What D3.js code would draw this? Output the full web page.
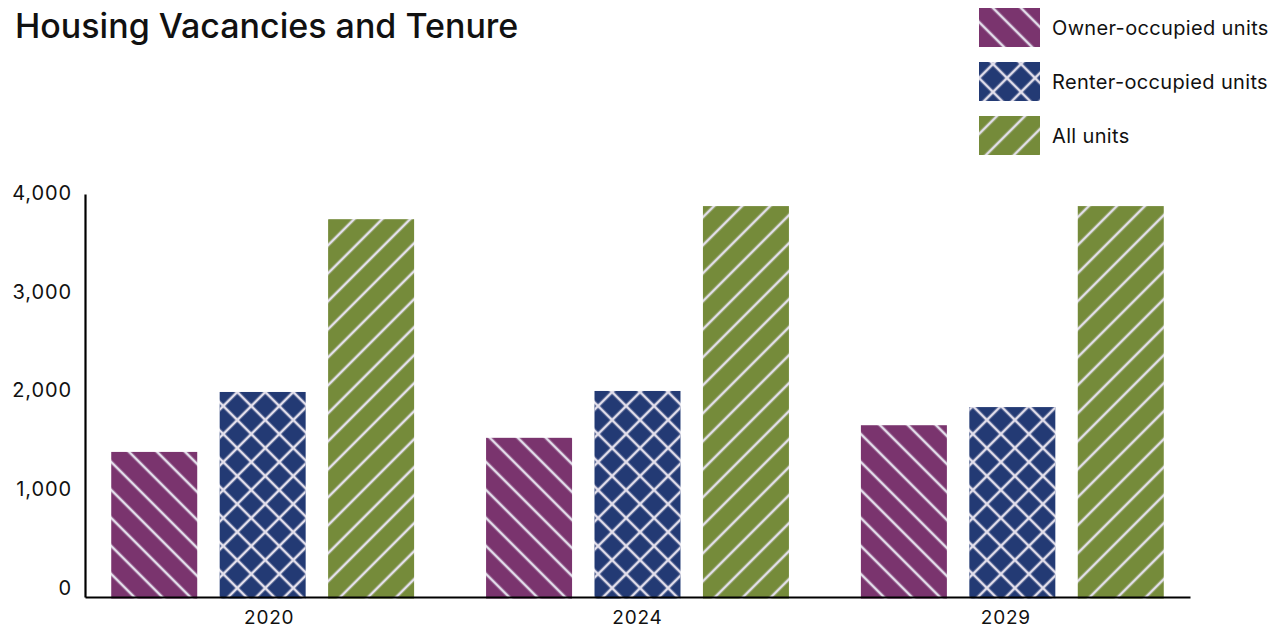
<!DOCTYPE html>
<html>
<head>
<meta charset="utf-8">
<script src="https://cdn.jsdelivr.net/npm/d3@7"></script>
<style>
  html, body { margin: 0; padding: 0; background: #fff; }
  svg { display: block; }
  text { font-family: Inter, "Noto Sans", sans-serif; fill: #111; }
</style>
</head>
<body>
<svg id="chart" width="1281" height="632"></svg>
<script>
// Vacant housing units by tenure
const years = ["2020", "2024", "2029"];
const seriesNames = ["Owner-occupied units", "Renter-occupied units", "All units"];
const ownerUnits = [1440, 1580, 1705];
const renterUnits = [2035, 2045, 1885];
const allUnits = [3750, 3880, 3880];
const yTicks = [0, 1000, 2000, 3000, 4000];

const seriesValues = [ownerUnits, renterUnits, allUnits];
const colors = ["#7a346e", "#233a74", "#758b3a"];
const patternIds = ["pat-owner", "pat-renter", "pat-all"];

const svg = d3.select("#chart");
const width = 1281, height = 632;
const margin = { left: 85, right: 91, top: 194, bottom: 35 };

// Hatch patterns
const defs = svg.append("defs");
const lineColor = "#e4e0ec";
const spacing = 19.8;
function hatch(id, color, angles) {
  angles.forEach((a, i) => {
    const pid = i === 0 ? id : id + "-b";
    const p = defs.append("pattern")
      .attr("id", pid)
      .attr("patternUnits", "userSpaceOnUse")
      .attr("width", spacing).attr("height", spacing)
      .attr("patternTransform", `rotate(${a})`);
    if (i === 0) p.append("rect").attr("width", spacing).attr("height", spacing).attr("fill", color);
    p.append("line")
      .attr("x1", spacing / 2).attr("x2", spacing / 2)
      .attr("y1", -1).attr("y2", spacing + 1)
      .attr("stroke", lineColor).attr("stroke-width", 2.6);
  });
}
hatch(patternIds[0], colors[0], [-45]);
hatch(patternIds[1], colors[1], [-45, 45]);
hatch(patternIds[2], colors[2], [45]);

// Scales
const x0 = d3.scaleBand().domain(years)
  .range([margin.left, width - margin.right])
  .paddingInner(0.192).paddingOuter(0.07);
const x1 = d3.scaleBand().domain(d3.range(seriesNames.length))
  .range([0, x0.bandwidth()])
  .paddingInner(0.207).paddingOuter(0);
// Year labels are centred in equal thirds of the axis
const xLabel = d3.scaleBand().domain(years).range([margin.left, width - margin.right]).padding(0);
const y = d3.scaleLinear().domain([0, 4000]).range([height - margin.bottom, margin.top]);
// Tick labels sit on a slightly tighter track than the plot area
const yLabel = d3.scaleLinear().domain([0, 4000]).range([588, 193]);

// Bars
const groups = svg.append("g").selectAll("g").data(years).join("g")
  .attr("transform", d => `translate(${x0(d)},0)`);
groups.each(function (yr, gi) {
  const g = d3.select(this);
  seriesValues.forEach((vals, si) => {
    const v = vals[gi];
    const xx = x1(si), yy = y(v), w = x1.bandwidth(), h = y(0) - y(v) + 1.5;
    g.append("rect").attr("x", xx).attr("y", yy).attr("width", w).attr("height", h)
      .attr("fill", `url(#${patternIds[si]})`);
    if (si === 1) {
      g.append("rect").attr("x", xx).attr("y", yy).attr("width", w).attr("height", h)
        .attr("fill", `url(#${patternIds[si]}-b)`);
    }
  });
});

// Y axis: line on the plot scale, labels on the label track
const yg = svg.append("g").attr("transform", `translate(${margin.left},0)`)
  .call(d3.axisLeft(y).tickValues([]).tickSize(0));
yg.select(".domain").attr("stroke", "#000").attr("stroke-width", 2.2);
const ylg = svg.append("g").attr("transform", `translate(${margin.left},0)`)
  .call(d3.axisLeft(yLabel).tickValues(yTicks).tickFormat(d3.format(",")).tickSize(0).tickPadding(13));
ylg.select(".domain").remove();
ylg.selectAll(".tick text")
  .attr("font-size", 20).attr("font-family", "Inter, sans-serif").attr("fill", "#111")
  .style("letter-spacing", "0.9px");

const xAxis = d3.axisBottom(xLabel).tickSize(0).tickPadding(14);
const xg = svg.append("g").attr("transform", `translate(0,${y(0)})`).call(xAxis);
xg.select(".domain").attr("stroke", "#000").attr("stroke-width", 2.2);
xg.selectAll(".tick text").attr("font-size", 19).attr("font-family", "Inter, sans-serif").attr("fill", "#111")
  .style("letter-spacing", "0.8px");

// Title
svg.append("text").attr("x", 15).attr("y", 38)
  .attr("font-size", 34).attr("font-weight", 500)
  .text("Housing Vacancies and Tenure");

// Legend
const legend = svg.append("g").attr("transform", "translate(979,8)");
seriesNames.forEach((name, i) => {
  const ly = i * 54;
  legend.append("rect").attr("x", 0).attr("y", ly).attr("width", 61).attr("height", 39)
    .attr("fill", `url(#${patternIds[i]})`);
  if (i === 1) legend.append("rect").attr("x", 0).attr("y", ly).attr("width", 61).attr("height", 39)
    .attr("fill", `url(#${patternIds[i]}-b)`);
  legend.append("text").attr("x", 73).attr("y", ly + 19.5).attr("dy", "0.35em")
    .attr("font-size", 20).style("letter-spacing", "0.35px").text(name);
});
</script>
</body>
</html>
